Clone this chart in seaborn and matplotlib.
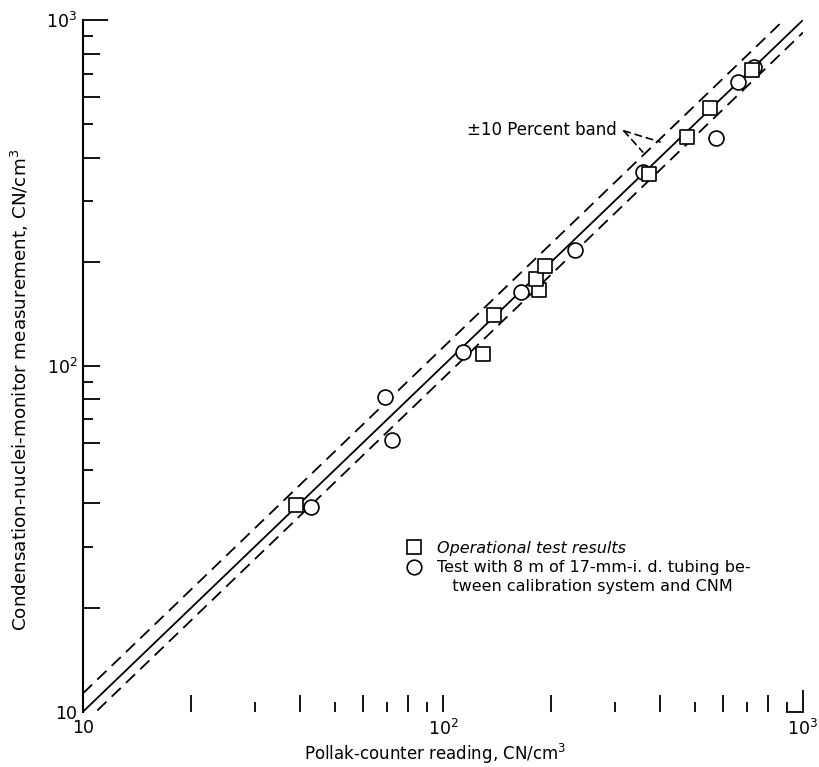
import matplotlib
matplotlib.use("Agg")
import matplotlib.pyplot as plt
from matplotlib import font_manager
from matplotlib.lines import Line2D
from matplotlib.ticker import FixedLocator, FixedFormatter
import seaborn as sns
import pandas as pd

# ---------------- data ----------------
op_x = [39, 129, 139, 185, 181, 192, 373, 477, 552, 720]
op_y = [39.6, 108, 140, 166, 178, 194, 358, 460, 556, 717]
tube_x = [43, 69, 72, 114, 165, 233, 359, 572, 659, 731]
tube_y = [39, 81.5, 61, 110, 164, 216, 364, 455, 664, 733]
line_x = [10, 1000]
band_upper = 1.13
band_lower = 0.92
decades = [10, 100, 1000]
decade_labels = ["10", "$10^2$", "$10^3$"]
even_minors = [20, 40, 60, 80, 200, 400, 600, 800]
odd_minors = [30, 50, 70, 90, 300, 500, 700, 900]
legend_labels = ["Operational test results",
                 "Test with 8 m of 17-mm-i. d. tubing be-",
                 "   tween calibration system and CNM"]
band_label = "\u00b110 Percent band"
x_title = "Pollak-counter reading, CN/cm$^3$"
y_title = "Condensation-nuclei-monitor measurement, CN/cm$^3$"

# ---------------- style ----------------
sns.set_style("white")
names = {f.name for f in font_manager.fontManager.ttflist}
if "Liberation Sans Narrow" in names:
    fam, fs, tfs, lfs, yfs = "Liberation Sans Narrow", 14, 15, 13.5, 15
else:
    fam, fs, tfs, lfs, yfs = "DejaVu Sans", 12, 12.5, 11.5, 13.2
plt.rcParams["font.family"] = [fam, "DejaVu Sans"]
plt.rcParams["text.color"] = "black"
plt.rcParams["axes.labelcolor"] = "black"
plt.rcParams["mathtext.fontset"] = "custom"
plt.rcParams["mathtext.rm"] = fam
plt.rcParams["mathtext.it"] = fam + ":italic"
plt.rcParams["mathtext.bf"] = fam + ":bold"

W, H = 819, 767
fig = plt.figure(figsize=(W / 100, H / 100), dpi=100)
x0, x1, ytop, ybot = 83, 803, 20, 711.7
ax = fig.add_axes([x0 / W, 1 - ybot / H, (x1 - x0) / W, (ybot - ytop) / H])
ax.set_xscale("log")
ax.set_yscale("log")
ax.set_xlim(10, 1000)
ax.set_ylim(10, 1000)

lw = 1.3
ax.plot(line_x, line_x, color="black", lw=lw, zorder=2)
ax.plot(line_x, [v * band_upper for v in line_x], color="black", lw=lw,
        dashes=(7, 4), zorder=2)
ax.plot(line_x, [v * band_lower for v in line_x], color="black", lw=lw,
        dashes=(7, 4), zorder=2)

df_op = pd.DataFrame({"x": op_x, "y": op_y})
df_tube = pd.DataFrame({"x": tube_x, "y": tube_y})
sns.scatterplot(data=df_tube, x="x", y="y", marker="o", s=115,
                facecolor="white", edgecolor="black", linewidth=1.2,
                ax=ax, zorder=3, legend=False)
sns.scatterplot(data=df_op, x="x", y="y", marker="s", s=105,
                facecolor="white", edgecolor="black", linewidth=1.2,
                ax=ax, zorder=4, legend=False)

# spines
for s in ["top", "right"]:
    ax.spines[s].set_visible(False)
ax.spines["left"].set_linewidth(1.5)
ax.spines["left"].set_color("black")
ax.spines["bottom"].set_color("black")
ax.spines["bottom"].set_linewidth(1.3)
ax.spines["bottom"].set_bounds(900, 1000)

# ticks
for axis in (ax.xaxis, ax.yaxis):
    majors_sorted = sorted(decades + even_minors)
    labels = [decade_labels[decades.index(v)] if v in decades else "" for v in majors_sorted]
    axis.set_major_locator(FixedLocator(majors_sorted))
    axis.set_major_formatter(FixedFormatter(labels))
    axis.set_minor_locator(FixedLocator(odd_minors))
    axis.set_minor_formatter(FixedFormatter([""] * len(odd_minors)))

ax.tick_params(axis="both", which="major", direction="in", length=12.5,
               width=1.3, color="black", labelsize=tfs, labelcolor="black")
ax.tick_params(axis="both", which="minor", direction="in", length=7.5,
               width=1.3, color="black")
ax.tick_params(axis="x", which="major", pad=5)
ax.tick_params(axis="y", which="major", pad=4)
ax.tick_params(left=True, bottom=True, which="both")

yt = ax.yaxis.get_major_ticks()
yt[0].tick1line.set_visible(False)
yt[-1].tick1line.set_markersize(18)
xt = ax.xaxis.get_major_ticks()
xt[0].tick1line.set_visible(False)
xt[-1].tick1line.set_markersize(16)

ax.set_xlabel(x_title, fontsize=fs)
ax.set_ylabel(y_title, fontsize=yfs)
ax.xaxis.set_label_coords(0.489, -0.043)
ax.yaxis.set_label_coords(-0.072, 0.465)

# legend
h_sq = Line2D([], [], marker="s", ls="none", markersize=10,
              markerfacecolor="white", markeredgecolor="black", markeredgewidth=1.2)
h_ci = Line2D([], [], marker="o", ls="none", markersize=10.5,
              markerfacecolor="white", markeredgecolor="black", markeredgewidth=1.2)
h_no = Line2D([], [], ls="none")
leg = ax.legend([h_sq, h_ci, h_no], legend_labels, frameon=False,
                loc="upper left", bbox_to_anchor=(406 / W, 1 - 541 / H),
                bbox_transform=fig.transFigure, fontsize=lfs,
                handlelength=1.0, handletextpad=0.95, labelspacing=0.26,
                borderpad=0, borderaxespad=0)
leg.get_texts()[0].set_style("italic")

# band annotation
ax.text(304, 481, band_label, ha="right", va="center", fontsize=fs)
for tx, ty in [(401, 444), (359, 415)]:
    ax.annotate("", xy=(tx, ty), xytext=(318, 478),
                arrowprops=dict(arrowstyle="-", color="black", lw=1.2,
                                linestyle=(0, (4, 3)), shrinkA=0, shrinkB=0))

fig.savefig("out.png", dpi=100)
